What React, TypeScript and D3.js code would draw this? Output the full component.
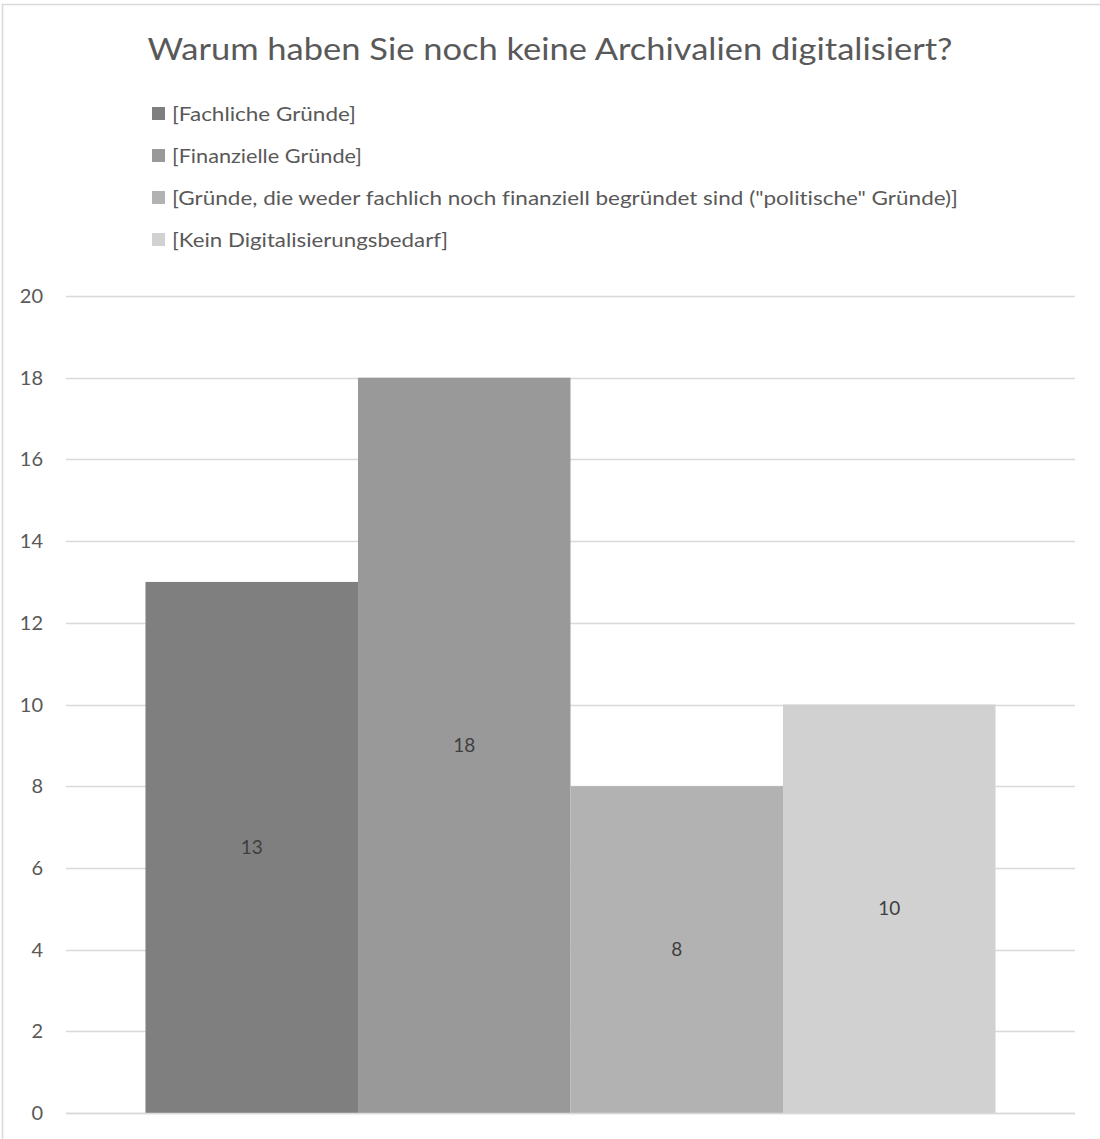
import React, { useEffect, useRef } from "react";
import * as d3 from "d3";

const title = "Warum haben Sie noch keine Archivalien digitalisiert?";
const seriesNames = [
  "[Fachliche Gründe]",
  "[Finanzielle Gründe]",
  '[Gründe, die weder fachlich noch finanziell begründet sind ("politische" Gründe)]',
  "[Kein Digitalisierungsbedarf]",
];
const seriesValues = [13, 18, 8, 10];
const seriesColors = ["#7f7f7f", "#999999", "#b2b2b2", "#d1d1d1"];
const yTicks = [0, 2, 4, 6, 8, 10, 12, 14, 16, 18, 20];

const W = 1100;
const H = 1139;
const FONT = "Lato, 'Open Sans', sans-serif";

export default function App() {
  const ref = useRef<SVGSVGElement | null>(null);

  useEffect(() => {
    document.body.style.margin = "0";
    const svg = d3.select(ref.current);
    svg.selectAll("*").remove();
    svg.style("font-variant-ligatures", "none");

    // frame
    svg
      .append("rect")
      .attr("x", 2.5)
      .attr("y", 4.5)
      .attr("width", W + 20)
      .attr("height", H + 20)
      .attr("fill", "#fff")
      .attr("stroke", "#d9d9d9")
      .attr("stroke-width", 1.5);

    // title
    svg
      .append("text")
      .attr("x", 550)
      .attr("y", 60)
      .attr("text-anchor", "middle")
      .attr("font-family", FONT)
      .attr("font-size", 31)
      .attr("fill", "#595959")
      .attr("textLength", 805)
      .attr("lengthAdjust", "spacingAndGlyphs")
      .text(title);

    // legend
    const legendWidths = [184, 190, 786, 276];
    const lg = svg.append("g");
    seriesNames.forEach((name, i) => {
      const y = 114 + i * 42;
      lg.append("rect")
        .attr("x", 152)
        .attr("y", y - 7)
        .attr("width", 13)
        .attr("height", 13)
        .attr("fill", seriesColors[i]);
      lg.append("text")
        .attr("x", 172)
        .attr("y", y)
        .attr("dy", "0.35em")
        .attr("font-family", FONT)
        .attr("font-size", 19)
        .attr("fill", "#595959")
        .attr("textLength", legendWidths[i])
        .attr("lengthAdjust", "spacingAndGlyphs")
        .text(name);
    });

    // scales
    const plotLeft = 66;
    const plotRight = 1075;
    const y = d3.scaleLinear().domain([0, 20]).range([1113, 296]);
    const x = d3
      .scaleBand<string>()
      .domain(seriesNames)
      .range([plotLeft, plotRight])
      .paddingInner(0)
      .paddingOuter(0.374);

    // grid
    svg
      .append("g")
      .selectAll("line")
      .data(yTicks)
      .join("line")
      .attr("x1", plotLeft)
      .attr("x2", plotRight)
      .attr("y1", (d) => Math.round(y(d)) + 0.5)
      .attr("y2", (d) => Math.round(y(d)) + 0.5)
      .attr("stroke", "#d9d9d9")
      .attr("stroke-width", 1.3);

    // tick labels
    svg
      .append("g")
      .selectAll("text")
      .data(yTicks)
      .join("text")
      .attr("x", 43)
      .attr("y", (d) => y(d))
      .attr("dy", "0.35em")
      .attr("text-anchor", "end")
      .attr("font-family", FONT)
      .attr("font-size", 20)
      .attr("fill", "#595959")
      .text((d) => String(d));

    // bars
    svg
      .append("g")
      .selectAll("rect")
      .data(seriesValues)
      .join("rect")
      .attr("x", (_, i) => x(seriesNames[i])!)
      .attr("width", x.bandwidth())
      .attr("y", (d) => y(d))
      .attr("height", (d) => y(0) - y(d))
      .attr("fill", (_, i) => seriesColors[i]);

    // baseline over bars
    svg
      .append("line")
      .attr("x1", plotLeft)
      .attr("x2", plotRight)
      .attr("y1", Math.round(y(0)) + 0.5)
      .attr("y2", Math.round(y(0)) + 0.5)
      .attr("stroke", "#d9d9d9")
      .attr("stroke-width", 1.3);

    // data labels
    svg
      .append("g")
      .selectAll("text")
      .data(seriesValues)
      .join("text")
      .attr("x", (_, i) => x(seriesNames[i])! + x.bandwidth() / 2)
      .attr("y", (d) => (y(d) + y(0)) / 2)
      .attr("dy", "0.35em")
      .attr("text-anchor", "middle")
      .attr("font-family", FONT)
      .attr("font-size", 19)
      .attr("fill", "#404040")
      .text((d) => String(d));
  }, []);

  return (
    <svg
      ref={ref}
      width={W}
      height={H}
      style={{ position: "absolute", left: 0, top: 0, display: "block" }}
    />
  );
}
